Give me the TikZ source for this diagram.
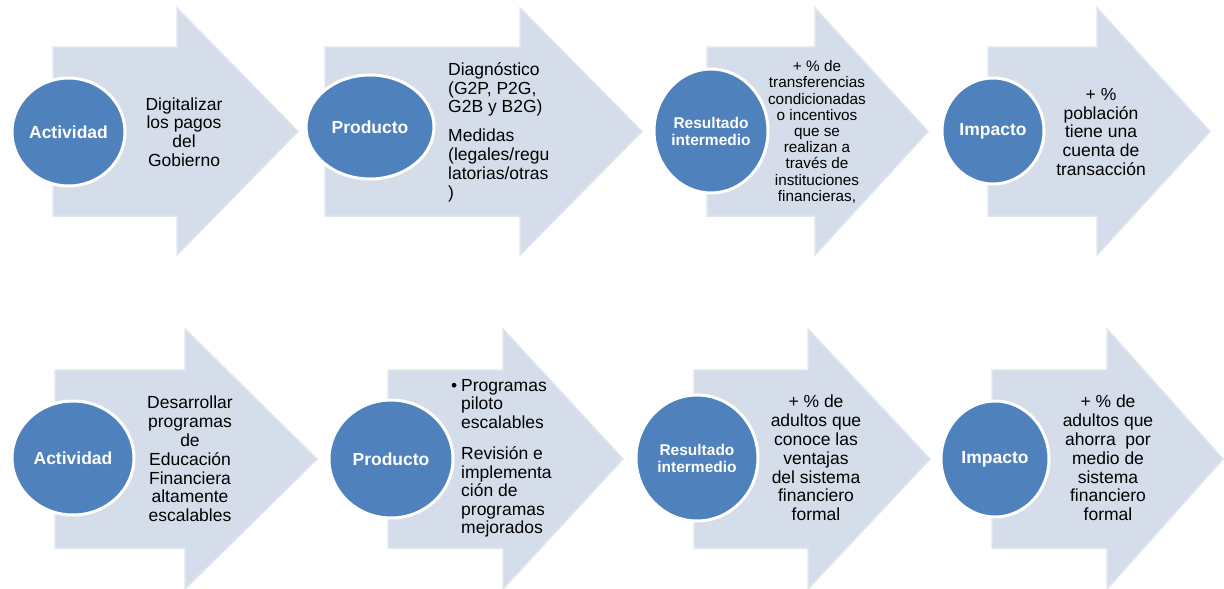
\documentclass[tikz,border=0pt]{standalone}
\usepackage{fontspec}
\setmainfont{Liberation Sans}
\usepackage{tikz}
\usetikzlibrary{shapes.geometric}
\definecolor{flechafill}{HTML}{D6DDEA}
\definecolor{flechaborde}{HTML}{DFE5EF}
\definecolor{circazul}{HTML}{4F81BD}
\newcommand{\flecha}[6]{%
    \filldraw[flechafill, draw=flechaborde, line width=1.5pt, line join=miter]
        (#1,#4-#5) -- (#2,#4-#5) -- (#2,#4-#6) -- (#3,#4) -- (#2,#4+#6)
        -- (#2,#4+#5) -- (#1,#4+#5) -- cycle;}
\tikzset{
    etapa/.style={ellipse, fill=circazul, draw=white, line width=3pt, text=white,
        inner sep=0pt, align=center, font=\bfseries\fontsize{17.5}{19}\selectfont},
    etapados/.style={etapa, font=\bfseries\fontsize{15.5}{17}\selectfont},
    texto/.style={align=center, inner sep=0pt, font=\fontsize{17.5}{18.8}\selectfont},
    textochico/.style={texto, font=\fontsize{15.3}{16.2}\selectfont}
}

\begin{document}
\begin{tikzpicture}[x=1pt, y=-1pt]
                    \useasboundingbox (0,0) rectangle (1224,589);
                    \flecha{53}{177}{298}{131.5}{84.5}{123.5}
                    \flecha{325}{520}{642}{131.5}{84.5}{123.5}
                    \flecha{707}{815}{928}{131.5}{84.5}{123.5}
                    \flecha{988}{1097}{1210}{131.5}{84.5}{123.5}
                    \flecha{55}{185}{317}{459}{89}{130}
                    \flecha{388}{503}{623}{459}{89}{130}
                    \flecha{694}{808}{930}{459}{89}{130}
                    \flecha{992}{1107}{1223}{459}{89}{130}

                    \node[etapa, minimum width=113pt, minimum height=108pt] (act1) at (68.5,132) {Actividad};
                    \node[etapa, minimum width=128pt, minimum height=104pt] (prod1) at (370,127) {Producto};
                    \node[etapados, minimum width=114pt, minimum height=124pt] (res1) at (711,131) {Resultado\\intermedio};
                    \node[etapa, minimum width=102pt, minimum height=106pt] (imp1) at (993,131) {Impacto};
                    \node[etapa, minimum width=122pt, minimum height=114pt] (act2) at (73,458) {Actividad};
                    \node[etapa, minimum width=124pt, minimum height=118pt] (prod2) at (391,459) {Producto};
                    \node[etapados, minimum width=122pt, minimum height=126pt] (res2) at (697,458) {Resultado\\intermedio};
                    \node[etapa, minimum width=108pt, minimum height=116pt] (imp2) at (995,459) {Impacto};

                    \node[texto] (txtact1) at (184,132) {Digitalizar\\los pagos\\del\\Gobierno};
                    \node[texto, align=left, anchor=west] (txtprod1) at (448,132)
                        {Diagnóstico\\(G2P, P2G,\\G2B y B2G)\\[10pt]Medidas\\(legales/regu\\latorias/otras\\)};
                    \node[textochico] (txtres1) at (817,132)
                        {+ \% de\\transferencias\\condicionadas\\o incentivos\\que se\\realizan a\\través de\\instituciones\\financieras,};
                    \node[texto] (txtimp1) at (1101,132) {+ \%\\población\\tiene una\\cuenta de\\transacción};

                    \node[texto] (txtact2) at (190,459)
                        {Desarrollar\\programas\\de\\Educación\\Financiera\\altamente\\escalables};
                    \node[texto, align=left, anchor=west, font=\fontsize{17.5}{18.5}\selectfont] (txtprod2) at (461,458.5)
                        {\llap{\textbullet\hspace{4pt}}Programas\\piloto\\escalables\\[13pt]Revisión e\\implementa\\ción de\\programas\\mejorados};
                    \node[texto] (txtres2) at (816,458)
                        {+ \% de\\adultos que\\conoce las\\ventajas\\del sistema\\financiero\\formal};
                    \node[texto] (txtimp2) at (1108,458)
                        {+ \% de\\adultos que\\ahorra\ \ por\\medio de\\sistema\\financiero\\formal};
                \end{tikzpicture}
\end{document}
